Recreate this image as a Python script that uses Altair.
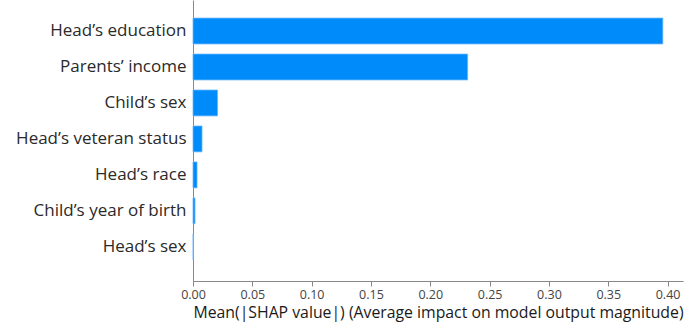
import altair as alt
import pandas as pd

features = ["Head’s education", "Parents’ income", "Child’s sex", "Head’s veteran status",
            "Head’s race", "Child’s year of birth", "Head’s sex"]
values = [0.396, 0.2315, 0.0207, 0.0076, 0.0034, 0.0017, 0.0003]

df = pd.DataFrame({"feature": features, "value": values})

chart = alt.Chart(df).mark_bar(color="#008BFB", stroke="#6CB8FF", strokeWidth=0.8).encode(
    x=alt.X("value:Q",
            scale=alt.Scale(domain=[0, 0.413], nice=False, zero=True),
            axis=alt.Axis(title="Mean(|SHAP value|) (Average impact on model output magnitude)",
                          values=[0, 0.05, 0.1, 0.15, 0.2, 0.25, 0.3, 0.35, 0.4],
                          format=".2f", grid=False, domainColor="#888888", tickColor="#888888",
                          tickSize=5, labelFont="Open Sans", labelFontSize=12.5, labelColor="#444444",
                          labelFlush=False, labelPadding=2, titleFont="Open Sans", titleFontSize=15.8,
                          titleFontWeight="normal", titleColor="#1a1a1a", titlePadding=5)),
    y=alt.Y("feature:N", sort=features,
            scale=alt.Scale(paddingInner=0.28, paddingOuter=0.546, align=0.46),
            axis=alt.Axis(title=None, ticks=False, domainColor="#888888", labelFont="Open Sans",
                          labelFontSize=17, labelColor="#2a2a2a", labelPadding=7, labelLimit=300)),
).properties(
    width=490, height=281, autosize="none",
    padding={"left": 193, "top": 0, "right": 6, "bottom": 52},
).configure_view(stroke=None)

chart.save("out.html", embed_options={"renderer": "svg", "actions": False})
